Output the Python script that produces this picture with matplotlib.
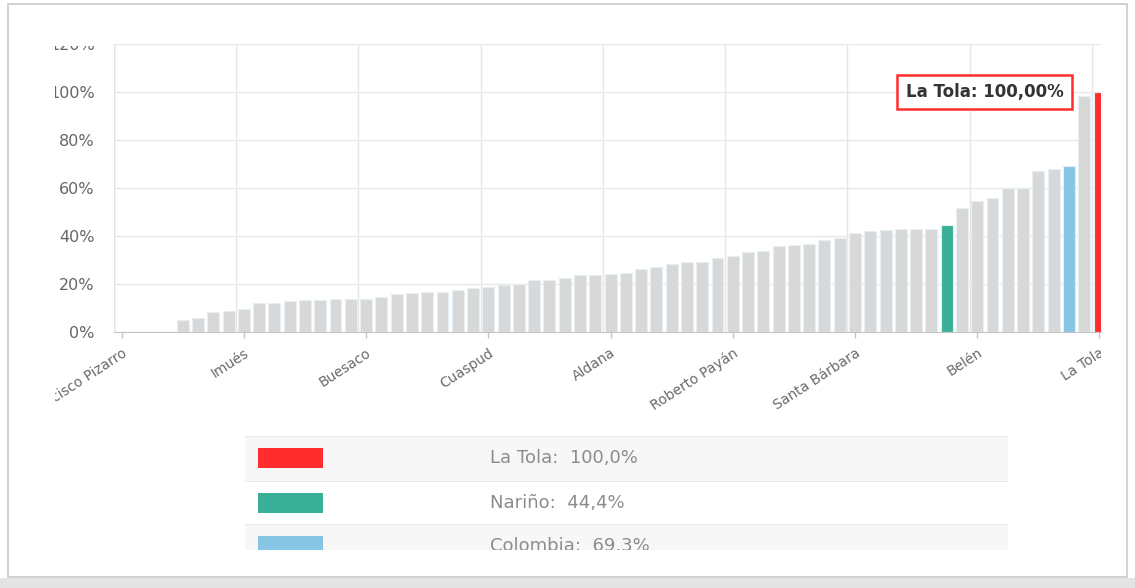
import numpy as np
import matplotlib
matplotlib.use("Agg")
import matplotlib.pyplot as plt
from matplotlib.patches import Rectangle
from matplotlib.transforms import Bbox, TransformedBbox

# municipality values (% ), sorted ascending; Nariño and Colombia included as bars
values = [0, 0, 0, 0, 5.0, 6.0, 8.5, 8.9, 9.7, 12.0,
          12.0, 12.8, 13.2, 13.2, 13.6, 13.6, 13.6, 14.6, 16.0, 16.4,
          16.8, 16.8, 17.6, 18.4, 18.9, 19.4, 19.9, 21.5, 21.5, 22.4,
          23.7, 23.7, 24.2, 24.6, 26.2, 27.1, 28.5, 29.3, 29.3, 31.0,
          31.5, 33.2, 33.6, 35.8, 36.4, 36.8, 38.5, 39.3, 41.4, 42.2,
          42.6, 43.0, 43.0, 43.0, 44.4, 51.8, 54.6, 55.7, 59.9, 60.2,
          67.0, 68.0, 69.3, 98.5, 100.0]
tick_labels = ["Francisco Pizarro", "Imués", "Buesaco", "Cuaspud", "Aldana",
               "Roberto Payán", "Santa Bárbara", "Belén", "La Tola"]
label_step = 8
idx_narino = 54
idx_colombia = 62
idx_latola = 64

legend_names = ["La Tola", "Nariño", "Colombia"]
legend_values = [100.0, 44.4, 69.3]
legend_colors = ["#ff2d2d", "#3aaf98", "#87c5e4"]

W, H = 1135, 588


def fx(x):
    return x / W


def fy(y):
    return 1 - y / H


fig = plt.figure(figsize=(W / 100, H / 100), dpi=100)
fig.patch.set_facecolor("white")

# card frame of the screenshot
fig.patches.append(Rectangle((fx(8), fy(577)), fx(1127) - fx(8), fy(4) - fy(577),
                             transform=fig.transFigure, fill=False,
                             edgecolor="#c9c9c9", linewidth=1.2))
fig.patches.append(Rectangle((0, 0), 1, fy(578), transform=fig.transFigure,
                             facecolor="#e4e4e4", edgecolor="none"))

ax = fig.add_axes([fx(114), fy(332), fx(1101) - fx(114), fy(44) - fy(332)])
x = np.arange(len(values))
colors = ["#d8d8d8"] * len(values)
colors[idx_narino] = legend_colors[1]
colors[idx_colombia] = legend_colors[2]
colors[idx_latola] = legend_colors[0]
ax.bar(x, values, width=0.78, color=colors, edgecolor="#e6f0f4", linewidth=0.8, zorder=3)

ax.set_xlim(-0.5, 64.1)
ax.set_ylim(0, 120)
for s in ["top", "right", "left"]:
    ax.spines[s].set_visible(False)
ax.spines["bottom"].set_color("#c4c4c4")
ax.spines["bottom"].set_zorder(4)

ax.set_yticks(np.arange(0, 121, 20))
ax.set_yticklabels([f"{v}%" for v in range(0, 121, 20)])
ax.tick_params(axis="y", length=0, pad=14, labelsize=11.5, labelcolor="#666666")
ax.yaxis.grid(True, color="#e8e8e8", linewidth=1, zorder=0)

label_pos = x[::label_step]
ax.set_xticks(label_pos)
ax.set_xticklabels(tick_labels, rotation=33, ha="right", rotation_mode="anchor")
ax.tick_params(axis="x", length=4, width=1, color="#c4c4c4", pad=6,
               labelsize=10, labelcolor="#6a6a6a")
for b in label_pos - 0.5:
    ax.axvline(b, color="#e6e6e6", linewidth=1, zorder=0)
ax.axvline(-0.5, color="#e0e0e0", linewidth=1, zorder=0)

# tooltip
ax.annotate(f"{tick_labels[-1]}: {values[idx_latola]:.2f}%".replace(".", ","),
            xy=(idx_latola, values[idx_latola]), xytext=(-115, 0),
            textcoords="offset pixels", ha="center", va="center",
            fontsize=12, fontweight="bold", color="#333333", zorder=6,
            bbox=dict(boxstyle="square,pad=0.5", fc="white", ec="#ff2d2d", lw=1.8))

# legend table
rows_top = [437, 482, 525]
row_h = 44
row_bg = ["#f7f7f7", "white", "#f7f7f7"]
clip = TransformedBbox(Bbox.from_extents(fx(55), fy(550), fx(1101), fy(46)), fig.transFigure)
legend_artists = []
for i, (name, val, col) in enumerate(zip(legend_names, legend_values, legend_colors)):
    top = rows_top[i]
    bg = Rectangle((fx(245), fy(top + row_h)), fx(1008) - fx(245), fy(top) - fy(top + row_h),
                   transform=fig.transFigure, facecolor=row_bg[i], edgecolor="none")
    line = Rectangle((fx(245), fy(top)), fx(1008) - fx(245), 1.5 / H,
                     transform=fig.transFigure, facecolor="#e9e9e9", edgecolor="none")
    sw = Rectangle((fx(258), fy(top + 31)), fx(323) - fx(258), 20 / H,
                   transform=fig.transFigure, facecolor=col, edgecolor="none")
    for p in (bg, line, sw):
        fig.patches.append(p)
        legend_artists.append(p)
    t = fig.text(fx(490), fy(top + 21), f"{name}:  {val:.1f}%".replace(".", ","),
                 fontsize=13, color="#8c8c8c", va="center", ha="left")
    legend_artists.append(t)

fig.canvas.draw()
for a in legend_artists + ax.get_xticklabels() + ax.get_yticklabels():
    a.set_clip_on(True)
    a.set_clip_box(clip)

fig.savefig("out.png", dpi=100)
